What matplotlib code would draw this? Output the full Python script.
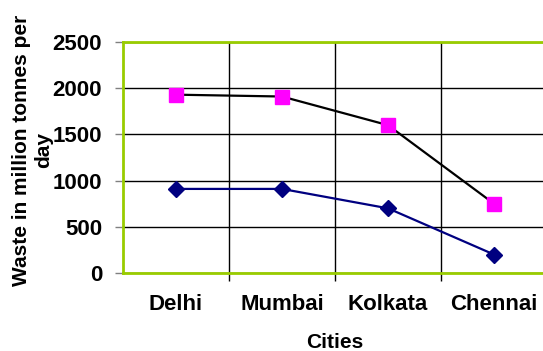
import numpy as np
import matplotlib.pyplot as plt

# ===== DATA =====
cities = ["Delhi", "Mumbai", "Kolkata", "Chennai"]
waste_top = [1930, 1910, 1600, 750]     # magenta squares
waste_low = [910, 910, 700, 200]        # navy diamonds
y_ticks = [0, 500, 1000, 1500, 2000, 2500]

plt.rcParams["font.family"] = ["Liberation Sans", "DejaVu Sans"]
plt.rcParams["font.weight"] = "bold"
plt.rcParams["axes.labelweight"] = "bold"

fig = plt.figure(figsize=(5.43, 3.51), dpi=100)
ax = fig.add_axes([123 / 543, 1 - 273 / 351, 424 / 543, 231 / 351])

x = np.arange(len(cities))

ax.plot(x, waste_top, color="black", lw=1.6, marker="s", ms=10,
        mfc="#ff00ff", mec="#ff00ff", zorder=3)
ax.plot(x, waste_low, color="#000080", lw=1.6, marker="D", ms=8,
        mfc="#000080", mec="#000080", zorder=3)

ax.set_xlim(-0.5, len(cities) - 0.5)
ax.set_ylim(0, 2500)
ax.set_yticks(y_ticks)

# labels at category centres, ticks + grid at the boundaries
ax.set_xticks(x)
ax.set_xticklabels(cities)
ax.set_xticks(np.arange(0.5, len(cities) - 0.5, 1), minor=True)
ax.tick_params(axis="x", which="major", length=0, pad=15, labelsize=16)
ax.tick_params(axis="x", which="minor", length=6, color="black", width=1)
ax.tick_params(axis="y", length=6, width=1, color="#808080", pad=9, labelsize=16)

ax.yaxis.grid(True, color="black", lw=1)
ax.xaxis.grid(True, which="minor", color="black", lw=1)
ax.set_axisbelow(True)

for side in ["left", "top", "bottom"]:
    ax.spines[side].set_color("#99cc00")
    ax.spines[side].set_linewidth(2)
ax.spines["right"].set_visible(False)

ax.set_xlabel("Cities", fontsize=15, labelpad=13)
fig.text(33 / 543, 1 - 150 / 351, "Waste in million tonnes per\nday",
         rotation=90, ha="center", va="center", fontsize=15,
         multialignment="center", linespacing=1.2)

fig.savefig("out.png", dpi=100)
